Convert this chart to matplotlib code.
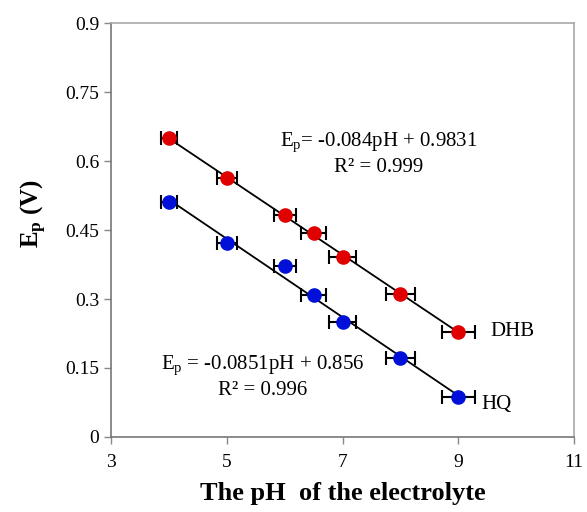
import numpy as np
from matplotlib import pyplot as plt

plt.rcParams['font.family'] = ['Liberation Serif', 'DejaVu Serif']
plt.rcParams['mathtext.fontset'] = 'custom'
plt.rcParams['mathtext.rm'] = 'Liberation Serif'
plt.rcParams['mathtext.it'] = 'Liberation Serif:italic'
plt.rcParams['mathtext.bf'] = 'Liberation Serif:bold'

# pH values
ph = [4, 5, 6, 6.5, 7, 8, 9]
# peak potential (V)
dhb = [0.650, 0.563, 0.482, 0.443, 0.391, 0.311, 0.229]
hq = [0.511, 0.421, 0.371, 0.309, 0.250, 0.172, 0.088]
# horizontal error in pH
ph_err = [0.14, 0.17, 0.19, 0.21, 0.23, 0.25, 0.28]

fig = plt.figure(figsize=(5.87, 5.12), dpi=100)
ax = fig.add_axes([0.189, 0.1465, 0.789, 0.8085])

for vals, col in [(dhb, '#e00000'), (hq, '#0010d8')]:
    # trend line
    m, b = np.polyfit(ph, vals, 1)
    xs = np.array([ph[0], ph[-1]])
    ax.plot(xs, m * xs + b, color='black', lw=1.3, zorder=2)
    ax.errorbar(ph, vals, xerr=ph_err, fmt='none', ecolor='black',
                elinewidth=1.5, capsize=5, capthick=1.5, zorder=3)
    ax.plot(ph, vals, 'o', color=col, markersize=9.5, markeredgecolor=col,
            zorder=4)

ax.text(7.62, 0.641, 'E$_\\mathrm{p}$= -0.084pH + 0.9831', fontsize=15,
        ha='center', va='center')
ax.text(7.62, 0.585, 'R² = 0.999', fontsize=15, ha='center', va='center')
ax.text(5.62, 0.157, 'E$_\\mathrm{p}$ = -0.0851pH + 0.856', fontsize=15,
        ha='center', va='center')
ax.text(5.62, 0.100, 'R² = 0.996', fontsize=15, ha='center', va='center')
ax.text(9.55, 0.229, 'DHB', fontsize=15, ha='left', va='center')
ax.text(9.4, 0.070, 'HQ', fontsize=15, ha='left', va='center')

ax.set_xlim(3, 11)
ax.set_ylim(0, 0.9)
ax.set_xticks([3, 5, 7, 9, 11])
ax.set_yticks([0, 0.15, 0.3, 0.45, 0.6, 0.75, 0.9])
ax.set_yticklabels(['0', '0.15', '0.3', '0.45', '0.6', '0.75', '0.9'])
ax.tick_params(labelsize=14, color='#888888', length=5, width=1)
ax.tick_params(axis='x', pad=7)

for s in ['top', 'right']:
    ax.spines[s].set_color('#a8a8a8')
    ax.spines[s].set_linewidth(1.2)
for s in ['left', 'bottom']:
    ax.spines[s].set_color('#777777')
    ax.spines[s].set_linewidth(1.2)

ax.set_xlabel('The pH  of the electrolyte', fontsize=19, fontweight='bold',
              labelpad=8)
ax.set_ylabel('E$_\\mathbf{p}$ (V)', fontsize=18, fontweight='bold')
ax.yaxis.set_label_coords(-0.133, 0.54)

fig.savefig('out.png', dpi=100)
